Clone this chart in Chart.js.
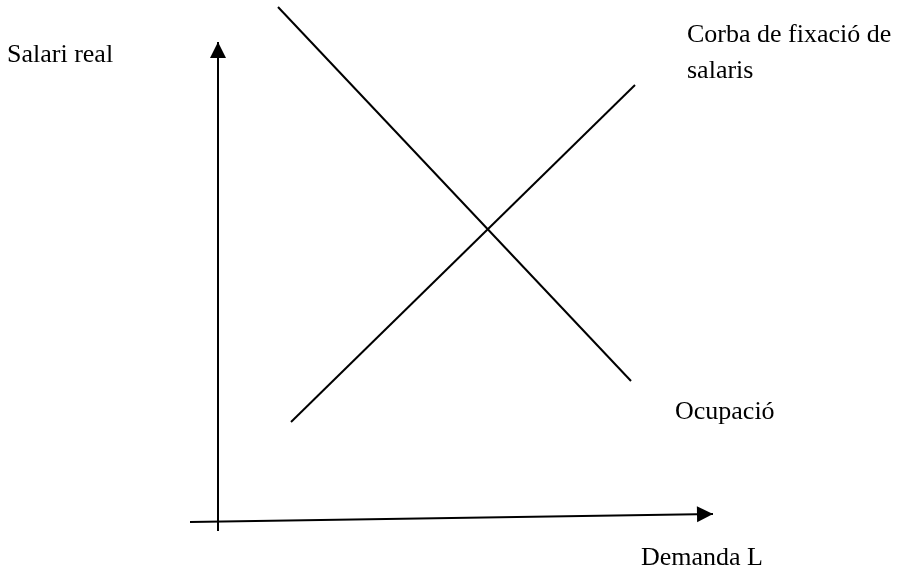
<!DOCTYPE html>
<html>
<head>
<meta charset="utf-8">
<title>Salari real / Demanda L</title>
<script src="https://cdn.jsdelivr.net/npm/chart.js@4.4.1/dist/chart.umd.min.js"></script>
<style>
    html, body { margin: 0; padding: 0; background: #ffffff; }
    #chart { display: block; }
</style>
</head>
<body>
<canvas id="chart" width="899" height="569"></canvas>
<script>
// Diagram data (x to the right, y upwards, same units as the picture)
const verticalAxis = [{ x: 218, y: 38 }, { x: 218, y: 527 }];
const horizontalAxis = [{ x: 190, y: 47 }, { x: 713, y: 55 }];
const wageSetting = [{ x: 291, y: 147 }, { x: 635, y: 484 }];
const labourDemand = [{ x: 278, y: 562 }, { x: 631, y: 188 }];

// Text labels and where they sit (left edge, baseline)
const labelTexts = ['Salari real', 'Corba de fixació de', 'salaris', 'Ocupació', 'Demanda L'];
const labelX = [7, 687, 687, 675, 641];
const labelY = [507, 527, 491, 150, 4];

const X_MAX = 899;
const Y_MAX = 569;

// Arrow heads at the last point of any dataset with arrow: true
const arrowPlugin = {
    id: 'arrowHeads',
    afterDatasetsDraw(chart) {
        const ctx = chart.ctx;
        chart.data.datasets.forEach((ds, i) => {
            if (!ds.arrow) return;
            const pts = chart.getDatasetMeta(i).data;
            const a = pts[pts.length - 2];
            const b = pts[pts.length - 1];
            const ang = Math.atan2(b.y - a.y, b.x - a.x);
            const len = 16, half = 8;
            ctx.save();
            ctx.fillStyle = '#000';
            ctx.beginPath();
            ctx.moveTo(b.x, b.y);
            ctx.lineTo(b.x - len * Math.cos(ang) - half * Math.sin(ang), b.y - len * Math.sin(ang) + half * Math.cos(ang));
            ctx.lineTo(b.x - len * Math.cos(ang) + half * Math.sin(ang), b.y - len * Math.sin(ang) - half * Math.cos(ang));
            ctx.closePath();
            ctx.fill();
            ctx.restore();
        });
    }
};

// Free text placed through the chart scales
const textPlugin = {
    id: 'freeText',
    afterDraw(chart) {
        const ctx = chart.ctx;
        const xs = chart.scales.x, ys = chart.scales.y;
        ctx.save();
        ctx.font = '26px "Liberation Serif", "Times New Roman", serif';
        ctx.fillStyle = '#000';
        ctx.textAlign = 'left';
        ctx.textBaseline = 'alphabetic';
        labelTexts.forEach((t, i) => {
            ctx.fillText(t, xs.getPixelForValue(labelX[i]), ys.getPixelForValue(labelY[i]));
        });
        ctx.restore();
    }
};

function lineSet(data, arrow) {
    return {
        data: data,
        showLine: true,
        borderColor: '#000',
        borderWidth: 2,
        pointRadius: 0,
        pointHoverRadius: 0,
        fill: false,
        tension: 0,
        arrow: arrow
    };
}

const ctx = document.getElementById('chart');
const chart = new Chart(ctx.getContext('2d'), {
    type: 'scatter',
    data: {
        datasets: [
            lineSet(verticalAxis, true),
            lineSet(horizontalAxis, true),
            lineSet(wageSetting, false),
            lineSet(labourDemand, false)
        ]
    },
    options: {
        responsive: false,
        animation: false,
        events: [],
        layout: { padding: 0 },
        plugins: {
            legend: { display: false },
            tooltip: { enabled: false },
            title: { display: false }
        },
        scales: {
            x: { type: 'linear', min: 0, max: X_MAX, display: false },
            y: { type: 'linear', min: 0, max: Y_MAX, display: false }
        }
    },
    plugins: [arrowPlugin, textPlugin]
});
</script>
</body>
</html>
